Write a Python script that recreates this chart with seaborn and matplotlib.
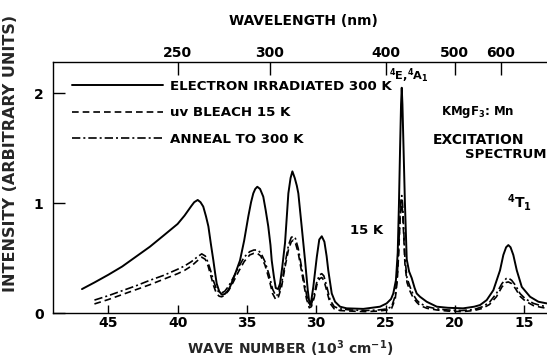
import numpy as np
import matplotlib
matplotlib.use("Agg")
import matplotlib.pyplot as plt
import seaborn as sns

# Wave number in 10^3 cm^-1, intensity in arbitrary units
irradiated_wn = [46.9, 46.0, 45.0, 44.0, 43.0, 42.0, 41.0, 40.0, 39.5, 39.0, 38.8, 38.55,
                 38.35, 38.15, 37.95, 37.78, 37.6, 37.42, 37.3, 37.18, 37.0, 36.82, 36.6,
                 36.4, 36.22, 35.9, 35.5, 35.2, 34.9, 34.7, 34.54, 34.4, 34.25, 34.05, 33.82,
                 33.65, 33.46, 33.3, 33.21, 33.05, 32.92, 32.75, 32.61, 32.45, 32.25, 32.1,
                 32.01, 31.85, 31.72, 31.55, 31.4, 31.29, 31.05, 30.81, 30.61, 30.52, 30.45,
                 30.35, 30.21, 29.96, 29.78, 29.6, 29.41, 29.25, 29.13, 28.88, 28.64, 28.28,
                 27.8, 26.6, 25.4, 24.92, 24.6, 24.44, 24.25, 24.12, 24.03, 23.95, 23.88,
                 23.83, 23.78, 23.7, 23.6, 23.47, 23.3, 23.11, 22.9, 22.75, 22.51, 22.03,
                 21.3, 20.5, 19.4, 18.6, 18.18, 17.7, 17.22, 16.74, 16.5, 16.3, 16.14, 15.98,
                 15.78, 15.53, 15.17, 14.57, 13.97, 13.37]
irradiated_int = [0.22, 0.28, 0.35, 0.425, 0.515, 0.605, 0.708, 0.812, 0.888, 0.977, 1.01, 1.03,
                  1.01, 0.97, 0.88, 0.79, 0.63, 0.48, 0.37, 0.27, 0.20, 0.17, 0.175,
                  0.20, 0.24, 0.34, 0.48, 0.66, 0.88, 1.01, 1.09, 1.13, 1.15, 1.13, 1.06,
                  0.94, 0.79, 0.62, 0.48, 0.33, 0.23, 0.22, 0.27, 0.42, 0.64, 0.92,
                  1.09, 1.23, 1.29, 1.23, 1.16, 1.09, 0.79, 0.485, 0.21, 0.12, 0.075,
                  0.12, 0.24, 0.51, 0.67, 0.70, 0.65, 0.52, 0.39, 0.18, 0.105, 0.06,
                  0.045, 0.04, 0.06, 0.09, 0.13, 0.18, 0.30, 0.55, 1.0, 1.5, 1.9,
                  2.05, 1.9, 1.5, 1.0, 0.49, 0.38, 0.32, 0.23, 0.18, 0.15, 0.105,
                  0.06, 0.05, 0.045, 0.06, 0.075, 0.12, 0.21, 0.39, 0.53, 0.60, 0.62, 0.60,
                  0.53, 0.39, 0.24, 0.15, 0.105, 0.09]

lower_wn = [46.0, 45.0, 44.0, 43.0, 42.0, 41.0, 40.0, 39.5, 39.0, 38.6, 38.26, 38.0, 37.8,
            37.6, 37.4, 37.2, 37.0, 36.82, 36.6, 36.3, 36.0, 35.6, 35.2, 34.8, 34.5, 34.25,
            34.0, 33.7, 33.4, 33.15, 32.92, 32.75, 32.5, 32.25, 32.0, 31.8, 31.65, 31.5,
            31.3, 31.1, 30.93, 30.7, 30.5, 30.35, 30.15, 29.95, 29.75, 29.6, 29.45, 29.25,
            29.0, 28.7, 28.28, 27.5, 26.5, 25.5, 24.9, 24.56, 24.3, 24.15, 24.05, 23.95,
            23.88, 23.83, 23.77, 23.7, 23.6, 23.45, 23.23, 23.0, 22.75, 22.51, 22.0, 21.3,
            20.5, 19.5, 18.6, 18.0, 17.5, 17.0, 16.6, 16.3, 16.14, 15.9, 15.6, 15.3, 14.9,
            14.33, 13.8, 13.37]
bleach_int = [0.085, 0.125, 0.17, 0.215, 0.26, 0.31, 0.36, 0.39, 0.43, 0.475, 0.51, 0.49, 0.43,
              0.34, 0.25, 0.18, 0.155, 0.15, 0.165, 0.21, 0.28, 0.38, 0.47, 0.53, 0.545, 0.545,
              0.52, 0.44, 0.31, 0.18, 0.125, 0.14, 0.24, 0.42, 0.58, 0.65, 0.665, 0.64,
              0.55, 0.41, 0.29, 0.13, 0.05, 0.06, 0.14, 0.26, 0.315, 0.325, 0.30, 0.21,
              0.09, 0.04, 0.025, 0.02, 0.015, 0.02, 0.03, 0.045, 0.13, 0.30, 0.55, 0.85,
              0.97, 0.99, 0.93, 0.74, 0.45, 0.28, 0.20, 0.14, 0.10, 0.07, 0.045, 0.03,
              0.02, 0.015, 0.025, 0.045, 0.08, 0.15, 0.24, 0.28, 0.285, 0.27, 0.22, 0.155, 0.11,
              0.07, 0.055, 0.045]
anneal_int = [0.12, 0.16, 0.205, 0.25, 0.30, 0.345, 0.40, 0.43, 0.47, 0.51, 0.54, 0.52, 0.46,
              0.38, 0.29, 0.22, 0.19, 0.185, 0.20, 0.25, 0.32, 0.42, 0.51, 0.56, 0.575, 0.575,
              0.55, 0.47, 0.35, 0.22, 0.16, 0.17, 0.27, 0.45, 0.62, 0.69, 0.70, 0.68,
              0.59, 0.45, 0.33, 0.17, 0.07, 0.08, 0.17, 0.29, 0.35, 0.36, 0.34, 0.25,
              0.12, 0.06, 0.04, 0.03, 0.025, 0.03, 0.04, 0.06, 0.16, 0.35, 0.60, 0.90,
              1.04, 1.07, 1.00, 0.80, 0.50, 0.32, 0.24, 0.17, 0.12, 0.09, 0.06, 0.04,
              0.03, 0.025, 0.035, 0.06, 0.10, 0.18, 0.27, 0.315, 0.32, 0.30, 0.25, 0.18, 0.13,
              0.09, 0.07, 0.06]

series_labels = ["ELECTRON IRRADIATED 300 K", "uv BLEACH 15 K", "ANNEAL TO 300 K"]
wavenumber_ticks = [45, 40, 35, 30, 25, 20, 15]
wavelength_ticks = [250, 300, 400, 500, 600]
intensity_ticks = [0, 1, 2]

sns.set_theme(style="ticks")
plt.rcParams["font.family"] = ["DejaVu Sans"]
plt.rcParams["font.weight"] = "bold"
plt.rcParams["mathtext.fontset"] = "dejavusans"
plt.rcParams["text.color"] = "black"
plt.rcParams["xtick.color"] = "black"
plt.rcParams["ytick.color"] = "black"

fig = plt.figure(figsize=(5.47, 3.58), dpi=100)
fig.patch.set_facecolor("white")
ax = fig.add_axes([0.0974, 0.1249, 0.9026, 0.7028])
ax.set_facecolor("white")

curves = [
    (irradiated_wn, irradiated_int, series_labels[0], None, 1.4),
    (lower_wn, bleach_int, series_labels[1], [4.0, 2.4], 1.2),
    (lower_wn, anneal_int, series_labels[2], [5.0, 1.8, 1.2, 1.8], 1.2),
]
for wn, inten, lab, dash, lw in curves:
    sns.lineplot(x=wn, y=inten, ax=ax, color="black", lw=lw, label=lab,
                 sort=False, estimator=None)
    if dash is not None:
        ax.lines[-1].set_dashes(dash)

ax.set_xlim(48.97, 13.35)
ax.set_ylim(0, 2.287)
ax.set_xticks(wavenumber_ticks)
ax.set_xticklabels([str(t) for t in wavenumber_ticks])
ax.set_yticks(intensity_ticks)
ax.set_yticklabels([str(t) for t in intensity_ticks])
ax.tick_params(axis="x", direction="in", length=6, width=1, pad=2, labelsize=10)
ax.tick_params(axis="y", direction="in", length=8.5, width=1, pad=7, labelsize=10)
for side in ("left", "bottom"):
    ax.spines[side].set_linewidth(1.0)
    ax.spines[side].set_color("black")
ax.spines["right"].set_visible(False)
ax.spines["top"].set_visible(False)


def wn_to_nm(w):
    w = np.asarray(w, dtype=float)
    with np.errstate(divide="ignore", invalid="ignore"):
        return 1e4 / w


sec = ax.secondary_xaxis("top", functions=(wn_to_nm, wn_to_nm))
sec.set_xticks(wavelength_ticks)
sec.set_xticklabels([str(t) for t in wavelength_ticks])
sec.tick_params(direction="in", length=9.5, width=1, pad=1.5, labelsize=10)
sec.spines["top"].set_linewidth(1.0)
sec.spines["top"].set_color("black")

ax.set_xlabel(r"WAVE NUMBER (10$^{\mathbf{3}}$ cm$^{\mathbf{-1}}$)", fontsize=10,
              fontweight="bold")
ax.xaxis.set_label_coords(0.479, -0.160)
ax.xaxis.label.set_va("baseline")
ax.text(0.507, 1.146, "WAVELENGTH (nm)", transform=ax.transAxes, ha="center",
        va="baseline", fontsize=10, fontweight="bold")
ax.set_ylabel("INTENSITY (ARBITRARY UNITS)", fontsize=11.5, fontweight="bold")
ax.yaxis.set_label_coords(-0.0857, 0.6367)
ax.yaxis.label.set_va("center")

handles, labels = ax.get_legend_handles_labels()
ax.legend(handles, labels, loc="upper left", bbox_to_anchor=(0.0379, 0.927),
          frameon=False, handlelength=6.8, handletextpad=0.55, labelspacing=1.0,
          borderpad=0, borderaxespad=0, prop={"weight": "bold", "size": 9.6})

# peak and sample annotations
ax.text(24.75, 2.12, r"$^{\mathbf{4}}$E,$^{\mathbf{4}}$A$_{\mathbf{1}}$", fontsize=8.2,
        fontweight="bold", ha="left", va="baseline")
ax.text(21.0, 1.83, r"KMgF$_{\mathbf{3}}$: Mn", fontsize=8.5, fontweight="bold",
        ha="left", va="center")
ax.text(21.57, 1.575, "EXCITATION", fontsize=10, fontweight="bold", ha="left", va="center")
ax.text(19.3, 1.44, "SPECTRUM", fontsize=9.5, fontweight="bold", ha="left", va="center")
ax.text(27.56, 0.757, "15 K", fontsize=9.5, fontweight="bold", ha="left", va="center")
ax.text(16.23, 0.957, r"$^{\mathbf{4}}$T$_{\mathbf{1}}$", fontsize=10, fontweight="bold",
        ha="left", va="baseline")

fig.savefig("out.png", dpi=100, facecolor="white")
